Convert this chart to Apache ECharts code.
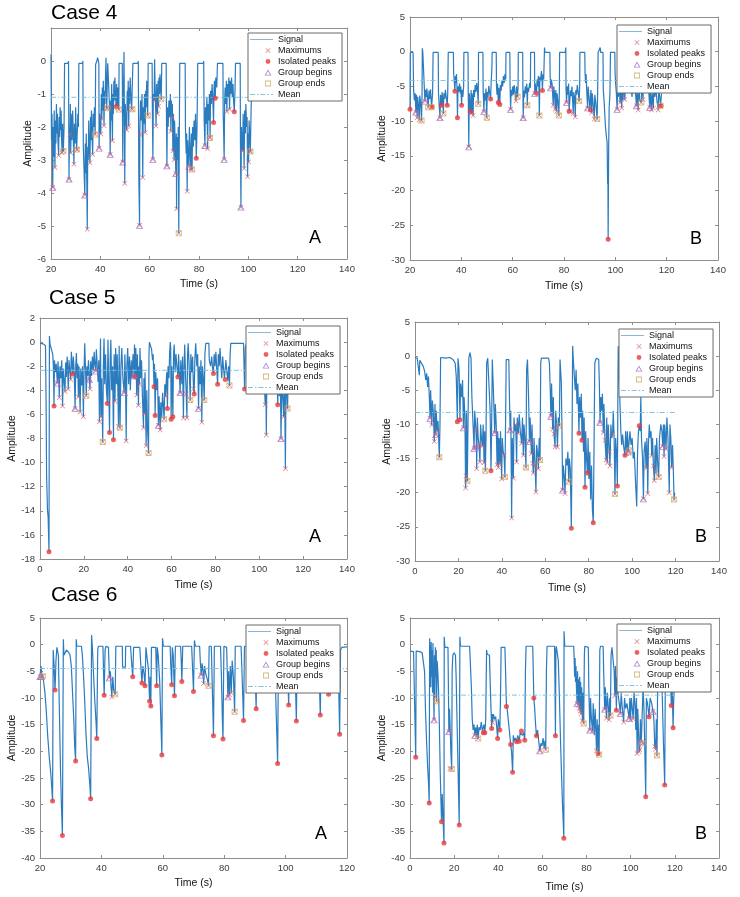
<!DOCTYPE html>
<html>
<head>
<meta charset="utf-8">
<script src="https://cdn.jsdelivr.net/npm/echarts@6/dist/echarts.min.js"></script>
<style>
  html, body { margin: 0; padding: 0; background: #fff; }
  #chart { width: 740px; height: 897px; }
</style>
</head>
<body>
<div id="chart"></div>
<script>
// --- Case 4 A ---
const c4aSignal = [[20,0.2],[20.2,-2.4],[20.4,-1.6],[20.7,-3.83],[20.9,-2.0],[21.1,-2.9],[21.3,-1.5],[21.6,-3.23],[21.8,-1.8],[22.0,-2.5],[22.2,-1.3],[22.4,-2.2],[22.6,-1.6],[22.8,-2.4],[23.1,-2.86],[23.3,-1.7],[23.5,-2.3],[23.7,-1.4],[23.9,-2.1],[24.1,-1.5],[24.3,-2.4],[24.5,-2.78],[24.7,-1.9],[25.0,-2.73],[25.3,-2.0],[25.5,-0.07],
  [27.0,-0.07],[27.1,0.0],[27.3,-3.58],[27.5,-2.0],[27.7,-2.23],[27.85,-1.3],[28.0,-2.79],[28.2,-1.6],[28.5,-2.4],[28.8,-1.5],[29.0,-2.2],[29.3,-3.13],[29.5,-1.9],[29.8,-2.5],[30.0,-1.4],[30.2,-2.2],[30.4,-2.68],[30.7,-2.68],[30.9,-1.6],[31.1,-2.0],[31.3,-0.07],
  [32.8,-0.07],[32.9,0.0],[33.1,-2.6],[33.4,-3.3],[33.7,-4.06],[33.9,-2.5],[34.1,-3.4],[34.3,-2.2],[34.5,-3.6],[34.7,-5.1],[34.9,-2.6],[35.1,-3.0],[35.3,-1.8],[35.5,-2.6],[35.8,-3.08],[36.0,-1.7],[36.2,-2.4],[36.4,-1.5],[36.6,-2.2],[36.9,-2.83],[37.1,-1.6],[37.4,-2.0],[37.6,-1.4],[37.9,-2.23],[38.1,-0.1],
  [38.6,0.0],[38.9,0.1],[39.2,0.0],[39.4,-0.08],[39.5,-2.64],[39.7,-1.6],[39.9,-2.0],[40.2,-2.21],[40.4,-1.0],[40.6,-1.75],[40.8,-0.8],[41.0,-1.5],[41.2,-0.6],[41.5,-1.96],[41.7,-0.9],[41.9,-1.3],[42.1,-0.5],[42.3,0.1],[42.6,-1.43],[42.9,-1.43],[43.0,-0.07],
  [43.7,-0.07],[43.8,-1.5],[44.0,-2.83],[44.2,-1.2],[44.4,-1.8],[44.6,-0.7],[44.9,-2.42],[45.1,-1.0],[45.3,-1.6],[45.5,-0.6],[45.7,-1.2],[45.9,-0.5],[46.1,-1.0],[46.4,-1.38],[46.6,-0.7],[46.9,-1.42],[47.1,-0.8],[47.3,-1.2],[47.5,-1.47],[47.6,-0.07],
  [48.9,-0.07],[49.0,-1.8],[49.1,-3.06],[49.3,-1.0],[49.5,-0.4],[49.6,0.27],[49.9,-3.71],[50.1,-1.3],[50.4,-1.8],[50.7,-2.09],[50.9,-0.9],[51.1,-1.5],[51.3,-0.6],[51.5,-1.97],[51.7,-0.8],[51.9,-1.3],[52.1,-0.5],[52.4,-1.1],[52.7,-1.45],[53.0,-1.46],[53.2,-0.07],
  [55.3,-0.07],[55.4,0.0],[55.6,-3.5],[55.9,-4.98],[56.0,-2.23],[56.1,-2.23],[56.3,-1.2],[56.6,-1.8],[56.9,-1.0],[57.2,-3.53],[57.4,-1.4],[57.7,-1.9],[57.9,-1.0],[58.2,-2.17],[58.4,-0.9],[58.6,-1.4],[58.8,-0.6],[59.0,-1.2],[59.2,-1.65],[59.4,-0.07],
  [61.0,-0.07],[61.1,-1.5],[61.3,-2.98],[61.5,-1.0],[61.8,-1.2],[62.0,0.05],[62.2,-0.8],[62.6,-1.97],[62.8,-0.7],[63.0,-1.2],[63.2,-1.6],[63.4,-0.6],[63.6,-1.38],[63.8,-0.5],[64.0,-1.0],[64.2,-0.4],[64.5,-0.9],[64.7,-1.16],[64.9,-0.07],
  [66.7,-0.07],[66.8,-1.6],[67.0,-3.18],[67.2,-1.4],[67.5,-2.0],[67.8,-1.2],[68.1,-1.7],[68.4,-1.0],[68.6,-2.13],[68.8,-1.2],[69.1,-1.70],[69.2,-1.3],[69.4,-2.73],[69.6,-1.6],[69.9,-2.99],[70.1,-1.8],[70.3,-2.4],[70.6,-3.41],[70.8,-2.2],[70.9,-4.48],[71.1,-2.3],[71.4,-3.0],[71.6,-2.0],[71.8,-5.22],[72.0,-2.5],[72.2,-0.07],
  [74.4,-0.07],[74.5,-2.0],[74.8,-2.8],[75.0,-2.2],[75.2,-3.95],[75.4,-2.4],[75.6,-3.0],[75.9,-3.19],[76.1,-2.0],[76.4,-2.8],[76.7,-3.29],[76.9,-2.2],[77.2,-3.29],[77.4,-2.0],[77.7,-2.6],[78.0,-1.8],[78.3,-2.4],[78.6,-1.6],[78.9,-2.95],[79.2,-2.0],[79.5,-0.07],
  [81.8,-0.07],[81.9,0.0],[82.1,-1.8],[82.4,-2.56],[82.6,-1.4],[82.9,-1.9],[83.2,-1.1],[83.5,-2.66],[83.7,-1.3],[84.0,-1.8],[84.2,-1.0],[84.5,-2.31],[84.7,-0.9],[85.0,-1.3],[85.3,-0.7],[85.6,-1.2],[85.9,-1.86],[86.1,-0.8],[86.3,-0.6],[86.6,-1.13],[86.8,-0.5],[87.2,-0.8],[87.5,-0.07],
  [89.7,-0.07],[89.8,-1.6],[90.0,-2.2],[90.2,-2.98],[90.4,-1.2],[90.6,-0.8],[90.9,-1.3],[91.1,-0.6],[91.3,-1.53],[91.5,-0.7],[91.8,-1.1],[92.1,-0.5],[92.4,-1.46],[92.6,-0.6],[92.9,-1.0],[93.2,-0.5],[93.5,-1.1],[93.8,-0.7],[94.0,-1.2],[94.3,-1.54],[94.6,-0.9],[94.8,-0.07],
  [96.7,-0.07],[96.8,-2.5],[97.0,-4.43],[97.2,-2.0],[97.5,-2.6],[97.7,-2.73],[97.9,-1.6],[98.1,-2.4],[98.3,-3.26],[98.5,-1.5],[98.8,-2.2],[99.0,-1.3],[99.3,-2.0],[99.5,-1.7],[99.7,-3.51],[99.9,-2.2],[100.1,-3.06],[100.3,-1.8],[100.6,-2.3],[100.8,-2.74],[101.0,-2.74],[101.2,-1.2]];
const c4aMaxima = [[21.6,-3.23],[23.1,-2.86],[24.5,-2.78],[27.7,-2.23],[28.0,-2.79],[29.3,-3.13],[30.7,-2.68],[34.7,-5.1],[35.8,-3.08],[36.9,-2.83],[40.2,-2.21],[40.6,-1.75],[41.5,-1.96],[42.6,-1.43],[44.9,-2.42],[46.9,-1.42],[49.9,-3.71],[50.7,-2.09],[51.5,-1.97],[52.7,-1.45],[56.1,-2.23],[57.2,-3.53],[58.2,-2.17],[61.8,-1.2],[62.6,-1.97],[63.2,-1.6],[63.6,-1.38],[68.6,-2.13],[69.1,-1.7],[69.4,-2.73],[69.9,-2.99],[70.9,-4.48],[75.2,-3.95],[76.7,-3.29],[83.5,-2.66],[84.5,-2.31],[91.3,-1.53],[92.4,-1.46],[97.7,-2.73],[98.3,-3.26],[99.7,-3.51],[100.1,-3.06],[101.0,-2.74]];
const c4aIsolated = [[46.4,-1.38],[78.9,-2.95],[85.9,-1.86],[86.6,-1.13],[94.3,-1.54]];
const c4aBegins = [[20.7,-3.83],[27.3,-3.58],[33.7,-4.06],[39.5,-2.64],[44.0,-2.83],[49.1,-3.06],[55.9,-4.98],[61.3,-2.98],[67.0,-3.18],[70.6,-3.41],[75.9,-3.19],[82.4,-2.56],[90.2,-2.98],[97.0,-4.43]];
const c4aEnds = [[25.0,-2.73],[30.4,-2.68],[37.9,-2.23],[42.9,-1.43],[47.5,-1.47],[53.0,-1.46],[59.2,-1.65],[64.7,-1.16],[71.8,-5.22],[77.2,-3.29],[84.4,-2.33],[100.8,-2.74]];
const c4aMean = -1.10;
const c4aXTicks = [20, 40, 60, 80, 100, 120, 140];
const c4aYTicks = [-6, -5, -4, -3, -2, -1, 0, 1];

// --- Case 4 B ---
const c4bSignal = [[20.0,-8.3],[20.1,-0.1],[21.2,-0.1],[21.4,-5.5],[21.7,-7.0],[22.0,-6.0],[22.3,-8.7],[22.5,-6.2],[22.8,-9.5],[23.0,-6.5],[23.3,-7.8],[23.6,-9.8],[23.8,-6.3],[24.1,-7.2],[24.5,-9.9],[24.7,-6.0],[24.8,0.5],[25.0,-0.1],[25.7,-0.1],[25.8,-7.1],[26.0,-5.5],[26.3,-6.6],[26.6,-5.3],[26.9,-7.0],[27.1,-8.0],[27.4,-5.6],[27.7,-6.8],[28.0,-5.4],[28.4,-8.0],[28.6,-7.95],[28.8,-6.0],[29.0,-0.1],
  [31.0,-0.1],[31.1,-6.0],[31.4,-8.0],[31.7,-9.5],[31.9,-6.2],[32.1,-7.0],[32.3,-7.7],[32.5,-5.8],[32.8,-7.3],[33.0,-8.9],[33.2,-6.0],[33.5,-6.8],[33.8,-5.5],[34.1,-6.5],[34.5,-7.7],[34.7,-6.0],[34.9,-0.1],
  [36.9,-0.1],[37.0,-3.0],[37.2,-4.0],[37.5,-5.7],[37.7,-3.5],[37.9,-4.5],[38.1,-3.2],[38.3,-5.0],[38.5,-9.5],[38.7,-5.0],[39.0,-5.8],[39.3,-4.6],[39.6,-6.0],[39.8,-5.0],[40.1,-7.7],[40.3,-5.5],[40.6,-6.5],[40.9,-5.0],[41.0,-0.1],
  [42.6,-0.1],[42.7,-6.0],[42.9,-13.7],[43.1,-6.0],[43.3,-7.5],[43.6,-8.6],[43.8,-5.5],[44.0,-8.9],[44.2,-6.0],[44.4,-7.2],[44.6,-9.2],[44.8,-5.5],[45.1,-6.5],[45.4,-4.8],[45.7,-5.8],[46.0,-4.5],[46.3,-5.6],[46.6,-7.5],[46.7,-0.1],
  [48.4,-0.1],[48.5,-5.5],[48.8,-8.6],[49.0,-6.0],[49.3,-7.0],[49.6,-5.3],[49.9,-9.5],[50.1,-5.8],[50.4,-6.6],[50.7,-4.9],[51.0,-5.8],[51.4,-6.8],[51.6,-4.5],[51.9,-2.6],[52.0,-0.1],
  [53.6,-0.1],[53.7,-5.0],[53.9,-6.2],[54.1,-4.6],[54.4,-7.3],[54.6,-5.2],[55.0,-7.6],[55.2,-4.8],[55.5,-5.6],[55.8,-4.2],[56.1,-5.0],[56.4,-3.5],[56.7,-4.5],[57.0,-3.2],[57.3,-4.0],[57.4,-0.1],
  [58.9,-0.1],[59.0,-5.0],[59.2,-8.3],[59.4,-5.5],[59.7,-6.4],[60.0,-5.0],[60.3,-6.2],[60.6,-4.8],[60.9,-5.9],[61.3,-7.1],[61.5,-5.0],[61.9,-6.5],[62.1,-5.0],[62.2,-0.1],
  [63.9,-0.1],[64.0,-6.0],[64.1,-9.5],[64.3,-5.6],[64.6,-6.6],[64.9,-5.0],[65.2,-6.0],[65.5,-4.6],[65.7,-7.7],[65.9,-5.2],[66.2,-5.8],[66.6,-4.5],[66.9,-5.2],[67.0,-0.1],
  [68.5,-0.1],[68.6,-6.0],[68.8,-4.6],[69.0,-5.4],[69.3,-6.0],[69.5,-4.0],[69.8,-5.0],[70.0,-3.5],[70.2,-4.4],[70.4,-9.2],[70.6,-3.6],[70.9,-4.2],[71.2,-2.8],[71.4,-3.6],[71.6,-5.6],[71.8,-3.3],[72.1,-4.0],[72.4,0.6],[72.6,-0.1],
  [74.5,-0.1],[74.6,-3.5],[74.8,-5.2],[75.1,-4.0],[75.4,-4.8],[75.8,-7.7],[76.0,-5.0],[76.3,-6.0],[76.6,-8.3],[76.8,-5.5],[77.1,-8.6],[77.3,-6.0],[77.6,-7.0],[78.0,-9.2],[78.2,-5.5],[78.3,-0.1],
  [80.5,-0.1],[80.7,0.6],[80.8,-5.5],[81.0,-7.3],[81.2,-5.0],[81.5,-6.2],[81.8,-4.6],[82.0,-8.57],[82.3,-8.6],[82.5,-5.6],[82.8,-6.4],[83.1,-5.0],[83.6,-8.9],[83.8,-5.8],[84.1,-6.6],[84.4,-9.4],[84.6,-5.5],[84.9,-6.2],[85.2,-4.8],[85.5,-5.8],[85.9,-7.1],[86.1,-5.0],[86.2,-0.1],
  [88.1,-0.1],[88.2,-3.0],[88.4,-4.5],[88.6,-3.2],[88.9,-6.0],[89.2,-8.1],[89.4,-5.0],[89.7,-6.3],[90.1,-8.3],[90.3,-8.4],[90.5,-5.5],[90.8,-8.8],[91.0,-6.0],[91.3,-7.2],[91.8,-9.7],[92.0,-6.2],[92.3,-7.0],[92.9,-9.7],[93.1,-6.0],[93.3,-0.1],
  [94.0,-0.1],[94.1,0.6],[94.3,-0.1],[95.2,-0.1],[95.3,-5.5],[95.6,-7.0],[95.9,-9.0],[96.1,-10.5],[96.4,-11.8],[96.6,-12.5],[96.8,-13.0],[97.0,-19.0],[97.1,-17.0],[97.2,-27.0],[97.4,-14.0],[97.6,-8.0],[97.9,-6.0],[98.1,-0.1],
  [99.8,-0.1],[99.9,-3.0],[100.1,-4.5],[100.4,-6.0],[100.7,-8.3],[100.9,-5.0],[101.2,-6.5],[101.5,-3.5],[101.8,-7.3],[102.0,-5.0],[102.5,-8.1],[102.7,-4.5],[103.0,-7.0],[103.3,-4.0],[103.7,-6.9],[104.0,-3.5],[104.3,-0.1],
  [106.0,-0.1],[106.1,-5.0],[106.5,-6.5],[106.9,-4.5],[107.3,-6.0],[107.7,-5.0],[108.2,-7.8],[108.5,-5.5],[108.9,-8.4],[109.2,-5.0],[109.5,-7.0],[110.1,-7.3],[110.3,-4.5],[110.8,-6.9],[111.0,-0.1],
  [112.8,-0.1],[112.9,-5.0],[113.4,-8.0],[113.6,-5.5],[114.1,-8.4],[114.3,-5.8],[114.8,-8.1],[115.0,-5.0],[115.4,-6.5],[115.8,-5.2],[116.2,-7.0],[116.7,-8.4],[116.9,-5.5],[117.3,-6.5],[117.6,-7.8],[117.8,-7.8],[118.0,-6.0]];
const c4bMaxima = [[22.8,-9.5],[23.6,-9.8],[44.0,-8.9],[44.6,-9.2],[61.3,-7.1],[75.8,-7.7],[76.6,-8.3],[77.1,-8.6],[82.3,-8.6],[83.6,-8.9],[84.4,-9.4],[90.8,-8.8],[91.8,-9.7],[101.8,-7.3],[102.5,-8.1],[103.7,-6.9],[108.9,-8.4],[110.8,-6.9],[114.1,-8.4],[114.8,-8.1],[116.7,-8.4]];
const c4bIsolated = [[20.0,-8.3],[28.6,-7.95],[32.3,-7.7],[34.5,-7.7],[37.5,-5.7],[38.5,-9.5],[40.1,-7.7],[43.6,-8.6],[51.4,-6.8],[54.4,-7.3],[55.0,-7.6],[69.3,-6.0],[71.6,-5.6],[82.0,-8.57],[90.3,-8.4],[97.2,-27.0],[117.8,-7.8]];
const c4bBegins = [[22.3,-8.7],[25.8,-7.1],[31.7,-9.5],[42.9,-13.7],[48.8,-8.6],[59.2,-8.3],[64.1,-9.5],[68.6,-6.0],[74.8,-5.2],[81.0,-7.3],[89.2,-8.1],[100.7,-8.3],[108.2,-7.8],[113.4,-8.0]];
const c4bEnds = [[24.5,-9.9],[27.1,-8.0],[28.4,-8.0],[33.0,-8.9],[46.6,-7.5],[49.9,-9.5],[61.9,-6.5],[65.7,-7.7],[70.4,-9.2],[78.0,-9.2],[85.9,-7.1],[92.9,-9.7],[110.1,-7.3],[117.6,-7.8]];
const c4bMean = -4.14;
const c4bXTicks = [20, 40, 60, 80, 100, 120, 140];
const c4bYTicks = [-30, -25, -20, -15, -10, -5, 0, 5];

// --- Case 5 A ---
const c5aSignal = [[0,-0.1],[1.5,-0.15],[2.2,-0.1],[2.5,-0.3],[2.8,-5.5],[3.0,-11],[3.4,-13.9],[3.7,-14.5],[4.1,-17.4],[4.3,0.5],[4.6,-0.2],[5.5,-0.3],[5.8,-1.0],[6.1,-2.0],[6.4,-5.3],[6.6,-1.5],[7.0,-2.5],[7.4,-1.8],[7.9,-3.4],[8.2,-1.6],[8.5,-2.8],[8.8,-4.6],[9.1,-2.0],[9.5,-3.0],[9.9,-1.5],[10.3,-5.3],[10.6,-2.2],[11.0,-3.2],[11.4,-4.1],[11.7,-1.7],[12.0,-2.9],[12.4,-1.2],[12.9,-3.9],[13.2,-1.5],[13.6,-2.3],[14.0,-3.1],[14.3,-0.8],[14.6,-1.8],[14.9,-2.65],[15.2,-1.2],[15.6,-2.5],[16.0,-5.5],[16.3,-2.0],[16.6,-0.9],[16.9,-3.0],[17.2,-1.8],[17.5,-4.55],[17.8,-2.0],[18.0,-3.5],[18.3,-5.8],[18.6,-2.2],[19.0,-3.6],[19.4,-2.0],[19.8,-6.2],[20.1,-2.3],[20.4,-0.1],
  [21.0,-0.1],[21.1,-4.45],[21.4,-2.0],[21.8,-2.8],[22.1,-1.5],[22.5,-3.1],[22.8,-3.9],[23.1,-1.6],[23.5,-2.8],[23.9,-1.2],[24.3,-2.4],[24.7,-0.8],[25.0,-1.8],[25.4,-2.4],[25.7,-0.6],[26.1,-2.0],[26.5,-3.3],[26.8,-1.5],[27.1,-6.6],[27.4,-2.0],[27.6,0.3],[27.8,-6.2],[28.1,-3.0],[28.6,-8.3],[28.9,-2.0],[29.2,0.3],[29.5,-3.5],[29.9,-1.0],[30.3,-4.0],[30.7,-5.1],[31.0,0.2],[31.3,-3.0],[31.7,-7.5],[32.0,-1.5],[32.3,0.2],[32.7,-4.0],[33.1,-2.0],[33.5,-8.1],[33.8,-1.0],[34.2,-4.9],[34.5,-0.5],[34.9,-3.5],[35.2,-1.0],[35.8,-7.0],[36.1,-0.3],[36.5,-7.1],[36.9,-2.0],[37.3,-0.5],[37.8,-3.0],[38.4,-4.2],[38.7,-1.0],[39.0,-3.0],[39.3,-8.2],[39.6,-2.0],[40.0,-0.5],[40.4,-3.5],[40.8,-1.2],[41.2,-4.0],[41.6,-1.5],[42.0,-3.0],[42.4,-1.0],[42.9,-2.8],[43.1,-0.2],[43.4,-2.9],[43.7,-0.5],[44.1,-4.4],[44.4,-1.0],[44.9,-5.25],[45.1,-2.0],[45.3,-3.5],[45.6,-0.5],[45.9,-3.0],[46.3,-1.5],[46.7,-4.5],[47.2,-7.1],[47.4,-3.0],[47.6,-5.95],[47.9,-2.5],[48.4,-8.6],[48.7,-4.0],[49.0,-7.0],[49.5,-9.2],[49.7,-1.0],[49.9,0.0],
  [50.5,-0.1],[50.9,-0.6],[51.3,-1.5],[51.6,-1.0],[52.0,-3.7],[52.2,-1.8],[52.5,-6.1],[52.8,-2.5],[53.2,-4.0],[53.6,-3.0],[54.0,-6.9],[54.3,-4.5],[54.8,-7.3],[55.1,-5.0],[55.5,-6.3],[55.9,-4.2],[56.3,-5.5],[56.6,-6.4],[56.9,-3.5],[57.2,-4.5],[57.5,-4.5],[57.8,-2.5],[58.1,-5.5],[58.4,-2.0],[58.8,-3.0],[59.1,-1.0],[59.4,0.0],[59.6,-0.5],[59.8,-6.4],[60.1,-2.0],[60.6,-6.2],[60.9,-1.0],[61.2,-0.2],[61.6,-2.5],[62.0,-1.0],[62.5,-2.2],[62.9,-2.9],[63.2,-1.0],[63.9,-4.2],[64.2,-1.5],[64.7,-3.5],[65.0,-1.2],[65.4,-6.3],[65.7,-2.0],[66.0,-0.2],[66.4,-3.0],[66.7,-4.3],[67.0,-6.3],[67.3,-1.0],[67.6,-0.1],[68.0,-2.0],[68.5,-4.8],[68.8,-1.0],[69.2,-2.5],[69.6,-1.2],[70.0,-3.9],[70.3,-4.3],[70.6,-1.5],[71.0,-0.1],[71.5,-2.0],[71.9,-1.0],[72.3,-5.5],[72.6,-2.0],[73.0,-3.5],[73.4,-1.5],[73.8,-6.65],[74.1,-2.0],[74.5,-3.0],[74.9,-4.8],[75.2,-1.0],[75.6,-0.1],
  [77.0,-0.1],[77.2,-1.5],[77.8,-2.0],[78.3,-1.2],[78.7,-2.2],[79.1,-2.6],[79.4,-1.0],[79.8,-2.0],[80.2,-0.8],[80.6,-2.3],[81.0,-3.5],[81.3,-1.0],[81.7,-2.0],[82.1,-0.5],[82.5,-1.8],[82.9,-3.0],[83.3,-1.2],[83.7,-2.2],[84.1,-3.0],[84.5,-3.1],[84.8,-1.5],[85.2,-2.5],[85.6,-3.2],[86.0,-2.0],[86.4,-3.6],[86.7,-1.0],[87.0,-0.1],[92.8,-0.1],[93.3,-3.9],[93.6,-0.5],[94.0,-0.2],[96.0,-0.2],[96.5,-1.5],[97.0,-0.5],[98.0,-2.0],[99.0,-1.0],[100.0,-2.5],[101.0,-1.5],[102.0,-2.0],[102.7,-5.2],[103.0,-3.0],[103.2,-7.7],[103.5,-2.0],[104.2,-0.3],
  [106.5,-0.3],[107.0,-2.0],[107.6,-3.0],[108.0,-2.0],[108.4,-5.2],[108.7,-3.0],[109.2,-4.5],[109.6,-2.5],[109.9,-8.0],[110.3,-3.0],[110.7,-4.5],[111.1,-6.2],[111.5,-2.5],[111.9,-10.5],[112.2,-3.0],[112.6,-4.0],[112.9,-5.5],[113.2,-2.5],[113.5,-1.0]];
const c5aMaxima = [[8.8,-4.6],[10.3,-5.3],[11.4,-4.1],[12.9,-3.9],[14.0,-3.1],[17.5,-4.55],[18.3,-5.8],[19.8,-6.2],[22.8,-3.9],[27.1,-6.6],[27.8,-6.2],[34.2,-4.9],[35.8,-7.0],[39.3,-8.2],[44.1,-4.4],[44.9,-5.25],[45.3,-3.5],[47.2,-7.1],[47.6,-5.95],[48.4,-8.6],[54.8,-7.3],[57.5,-4.5],[65.4,-6.3],[66.7,-4.3],[67.0,-6.3],[70.0,-3.9],[73.8,-6.65],[102.7,-5.2],[103.2,-7.7],[111.1,-6.2],[111.9,-10.5]];
const c5aIsolated = [[4.1,-17.4],[6.4,-5.3],[14.9,-2.65],[30.7,-5.1],[31.7,-7.5],[33.5,-8.1],[43.4,-2.9],[52.0,-3.7],[52.5,-6.1],[58.1,-5.5],[59.8,-6.4],[60.6,-6.2],[62.9,-2.9],[70.3,-4.3],[79.1,-2.6],[81.0,-3.5],[84.5,-3.1],[93.3,-3.9],[108.4,-5.2]];
const c5aBegins = [[7.9,-3.4],[16.0,-5.5],[22.5,-3.1],[25.4,-2.4],[38.4,-4.2],[42.9,-2.8],[54.0,-6.9],[63.9,-4.2],[72.3,-5.5],[109.9,-8.0]];
const c5aEnds = [[21.1,-4.45],[28.6,-8.3],[36.5,-7.1],[49.5,-9.2],[56.6,-6.4],[68.5,-4.8],[74.9,-4.8],[86.4,-3.6],[112.9,-5.5]];
const c5aMean = -2.34;
const c5aXTicks = [0, 20, 40, 60, 80, 100, 120, 140];
const c5aYTicks = [-18, -16, -14, -12, -10, -8, -6, -4, -2, 0, 2];

// --- Case 5 B ---
const c5bSignal = [[0,-0.2],[1.0,-0.3],[1.8,-0.5],[2.0,-2.8],[2.2,-0.6],[3.0,-0.8],[3.8,-1.5],[4.4,-2.2],[5.0,-3.5],[5.4,-2.5],[5.8,-4.5],[6.2,-3.0],[6.6,-6.0],[6.9,-9.1],[7.2,-5.0],[7.7,-10.1],[8.0,-6.5],[8.4,-8.0],[8.9,-12.5],[9.2,-7.0],[9.5,-11.5],[9.8,-8.0],[10.2,-11.0],[10.6,-9.5],[11.2,-14.8],[11.5,-10.0],[11.8,-0.2],[14.0,-0.3],[16.0,-0.2],[17.5,-0.5],[18.5,-1.0],[19.0,-3.0],[19.5,-9.6],[19.8,-0.3],[20.3,-2.0],[20.7,-9.3],[21.0,-4.0],[21.5,-6.0],[21.9,-3.5],[22.3,-10.5],[22.6,-6.0],[23.0,-9.0],[23.3,-19.3],[23.5,-17.5],[23.7,-8.0],[24.1,-18.3],[24.4,-10.0],[24.8,-0.3],[25.3,0.5],[25.8,-0.3],
  [26.2,-6.0],[26.6,-9.0],[27.2,-13.5],[27.5,-8.0],[28.1,-11.0],[28.3,-13.3],[28.4,-16.5],[28.7,-9.0],[29.1,-12.0],[29.5,-13.0],[29.9,-15.5],[30.2,-10.0],[30.6,-12.0],[31.0,-13.2],[31.4,-10.0],[31.8,-15.6],[32.1,-11.0],[32.4,-16.8],[32.7,-12.0],[33.0,-1.0],[33.5,-0.3],[34.3,-0.5],[34.6,-8.0],[35.0,-16.8],[35.3,-10.0],[35.6,-0.5],[36.0,-4.0],[36.4,-8.0],[36.7,-11.2],[37.0,-7.0],[37.4,-10.0],[37.8,-15.9],[38.1,-11.0],[38.4,-16.3],[38.7,-12.0],[39.1,-15.8],[39.4,-11.0],[39.9,-18.0],[40.2,-12.0],[40.6,-14.0],[41.0,-14.5],[41.4,-17.7],[41.7,-10.0],[42.0,-0.5],[43.2,-0.5],
  [43.5,-6.0],[43.8,-10.8],[44.1,-8.0],[44.5,-23.7],[44.8,-12.0],[45.3,-17.9],[45.6,-9.0],[46.0,-11.0],[46.4,-10.0],[46.8,-15.5],[47.1,-9.0],[47.6,-11.3],[48.0,-8.5],[48.5,-11.0],[49.1,-12.8],[49.5,-9.0],[49.9,-14.5],[50.2,-10.0],[50.6,-12.0],[51.1,-16.3],[51.4,-2.0],[51.8,-0.5],[52.3,-6.0],[52.7,-12.5],[53.0,-9.0],[53.6,-14.3],[53.9,-10.0],[54.2,-15.7],[54.5,-17.1],[54.8,-12.0],[55.3,-16.1],[55.7,-19.9],[56.0,-13.0],[56.4,-14.0],[56.8,-16.5],[57.2,-12.0],[57.6,-15.2],[57.9,-1.0],[58.2,-0.3],[61.5,-0.3],
  [61.9,-1.0],[62.2,-4.0],[62.6,-8.8],[62.9,-4.0],[63.4,-10.7],[63.7,-6.0],[64.0,-11.4],[64.5,-13.3],[64.8,-8.0],[65.2,-10.0],[65.6,-13.3],[66.0,-9.0],[66.5,-10.2],[66.8,-0.5],[67.4,-4.0],[68.0,-19.6],[68.3,-16.0],[68.7,-17.5],[69.1,-20.1],[69.5,-15.0],[70.0,-16.0],[70.4,-14.0],[70.8,-18.4],[71.1,-15.0],[71.5,-16.5],[72.0,-25.2],[72.3,-14.0],[72.6,1.5],[72.9,-0.5],
  [73.4,-3.0],[73.8,-5.0],[74.2,-2.0],[74.6,-7.0],[75.0,-4.0],[75.5,-11.3],[75.8,-6.0],[76.2,-9.0],[76.6,-5.5],[76.9,-12.3],[77.2,-8.0],[77.6,-14.0],[77.9,-9.0],[78.3,-19.2],[78.6,-11.0],[79.0,-15.0],[79.4,-17.1],[79.7,-12.0],[80.1,-18.0],[80.5,-14.0],[80.9,-21.0],[81.3,-16.0],[81.7,-22.5],[82.1,-24.4],[82.4,-15.0],[82.8,-1.0],[83.5,-0.3],[84.6,-0.5],
  [84.9,-4.0],[85.2,-9.7],[85.6,-6.0],[86.0,-8.0],[86.3,-5.5],[86.7,-11.2],[87.0,-7.0],[87.5,-12.3],[88.0,-15.2],[88.3,-9.0],[88.6,-15.6],[89.0,-10.0],[89.5,-14.0],[89.8,-16.1],[90.2,-10.0],[90.6,-12.0],[91.0,-11.4],[91.3,-8.0],[91.7,-12.0],[92.1,-20.2],[92.4,-12.0],[92.8,-14.0],[93.2,-19.0],[93.5,-2.0],[93.6,1.5],[93.8,-0.5],
  [94.3,-6.0],[94.8,-11.0],[95.2,-13.0],[95.6,-11.5],[96.2,-13.5],[96.7,-14.5],[97.0,-11.0],[97.5,-14.3],[97.8,-11.0],[98.2,-14.0],[98.7,-13.8],[99.0,-11.0],[99.5,-13.0],[100.0,-12.0],[100.5,-15.0],[101.0,-14.0],[101.5,-18.0],[102.1,-22.0],[102.5,-14.0],[102.9,-11.0],[103.3,-10.2],[103.7,-11.0],[104.0,-6.0],[104.3,-12.0],[104.8,-15.0],[105.2,-20.9],[105.5,-14.0],[106.0,-12.5],[106.4,-16.4],[106.8,-12.0],[107.2,-20.1],[107.5,-13.0],[107.9,-10.0],[108.3,-12.0],[108.7,-11.0],[109.0,-14.6],[109.4,-12.0],[109.8,-16.1],[110.2,-18.2],[110.6,-13.0],[111.0,-17.1],[111.3,-12.0],[111.8,-16.0],[112.2,-17.7],[112.6,-12.0],[113.2,-10.0],[113.7,-11.0],[114.1,-13.2],[114.4,-10.0],[114.7,-14.7],[115.0,-10.0],[115.6,-13.6],[116.0,-9.0],[116.5,-12.0],[117.1,-20.0],[117.4,-10.0],[117.8,-12.0],[118.2,-16.3],[118.6,-13.0],[119.0,-17.0],[119.3,-21.0],[119.6,-20.0]];
const c5bMaxima = [[7.7,-10.1],[8.9,-12.5],[10.2,-11.0],[23.3,-19.3],[23.5,-17.5],[28.1,-11.0],[28.4,-16.5],[29.5,-13.0],[29.9,-15.5],[31.0,-13.2],[31.8,-15.6],[37.8,-15.9],[38.4,-16.3],[39.1,-15.8],[39.9,-18.0],[41.0,-14.5],[44.5,-23.7],[45.3,-17.9],[46.4,-10.0],[46.8,-15.5],[47.6,-11.3],[49.1,-12.8],[49.9,-14.5],[53.6,-14.3],[54.2,-15.7],[54.5,-17.1],[55.3,-16.1],[55.7,-19.9],[56.8,-16.5],[63.4,-10.7],[64.0,-11.4],[64.5,-13.3],[65.6,-13.3],[69.1,-20.1],[86.7,-11.2],[87.5,-12.3],[88.0,-15.2],[88.6,-15.6],[89.5,-14.0],[89.8,-16.1],[91.0,-11.4],[97.5,-14.3],[106.4,-16.4],[107.2,-20.1],[109.0,-14.6],[109.8,-16.1],[110.2,-18.2],[111.0,-17.1],[114.7,-14.7],[115.6,-13.6],[117.1,-20.0],[118.2,-16.3]];
const c5bIsolated = [[19.5,-9.6],[20.7,-9.3],[35.0,-16.8],[72.0,-25.2],[75.5,-11.3],[76.9,-12.3],[78.3,-19.2],[79.4,-17.1],[82.1,-24.4],[93.2,-19.0],[96.7,-14.5],[103.3,-10.2]];
const c5bBegins = [[6.9,-9.1],[9.5,-11.5],[22.3,-10.5],[27.2,-13.5],[28.3,-13.3],[36.7,-11.2],[43.8,-10.8],[52.7,-12.5],[62.6,-8.8],[68.0,-19.6],[85.2,-9.7],[98.2,-14.0],[105.2,-20.9],[114.1,-13.2]];
const c5bEnds = [[11.2,-14.8],[24.1,-18.3],[32.4,-16.8],[41.4,-17.7],[51.1,-16.3],[57.6,-15.2],[66.5,-10.2],[70.8,-18.4],[92.1,-20.2],[98.7,-13.8],[112.2,-17.7],[119.3,-21.0]];
const c5bMean = -8.25;
const c5bXTicks = [0, 20, 40, 60, 80, 100, 120, 140];
const c5bYTicks = [-30, -25, -20, -15, -10, -5, 0, 5];

// --- Case 6 A ---
const c6aSignal = [[20.0,-6.0],[20.3,-4.0],[20.6,-5.5],[20.9,-5.9],[21.2,-7.0],[21.6,-9.0],[22.0,-12.0],[22.5,-17.0],[23.0,-21.0],[23.5,-24.0],[23.8,-26.5],[24.1,-29.3],[24.3,-1.0],[24.6,-4.0],[24.9,-8.5],[25.2,-3.0],[25.5,-0.5],[25.8,-0.3],[26.0,-2.0],[26.3,-12.0],[26.7,-24.0],[27.0,-30.5],[27.3,-35.8],[27.6,1.0],[27.8,-2.0],[28.2,-1.5],[28.6,-1.0],[29.0,-1.2],[29.4,-1.5],[29.8,-2.0],[30.2,-4.0],[30.6,-9.0],[31.0,-14.0],[31.3,-19.0],[31.6,-21.8],[31.8,1.0],[32.0,-0.3],[33.5,-0.3],[33.8,-2.0],[34.2,-6.0],[34.6,-11.0],[35.0,-17.0],[35.4,-21.0],[35.8,-23.0],[36.2,-26.0],[36.5,-28.9],[36.8,1.8],[37.1,-1.0],[37.4,-5.0],[37.8,-10.0],[38.2,-14.0],[38.5,-17.6],[38.8,-1.0],[39.0,-0.3],[40.5,-0.3],[40.7,-5.0],[40.9,-9.5],[41.2,-1.0],[41.5,-0.3],[42.3,-0.5],[42.6,-6.2],[42.9,-5.0],[43.1,-7.5],[43.4,-9.8],[43.7,-6.0],[44.0,-8.5],[44.5,-9.3],[44.7,-0.3],[46.8,-0.3],[46.9,-4.2],[47.8,-4.2],[47.9,-0.3],[49.5,-0.3],[49.8,-3.0],[50.2,-6.0],[50.5,-0.5],[52.5,-0.5],[52.8,-3.5],[53.2,-7.2],[53.5,-4.0],[53.9,-5.5],[54.2,-7.7],[54.5,-0.5],[55.0,-0.5],[55.3,-4.5],[55.7,-10.6],[55.9,-6.0],[56.1,-11.5],[56.3,-0.5],[57.7,-0.5],[58.0,-7.7],[58.2,-0.5],[58.5,-2.0],[59.0,-7.0],[59.4,-15.0],[59.7,-20.7],[59.9,1.2],[60.2,-0.3],
  [62.4,-0.3],[62.6,-4.0],[62.9,-7.5],[63.1,-0.5],[63.4,-2.0],[63.8,-9.6],[64.1,-0.3],[65.8,-0.3],[66.0,-3.0],[66.2,-6.9],[66.5,-0.3],[69.4,-0.3],[69.7,-4.5],[70.0,-8.8],[70.3,0.8],[70.6,-0.3],[72.0,-0.3],[72.2,-3.0],[72.5,-5.7],[72.8,-3.5],[73.1,-5.0],[73.3,-7.3],[73.6,-4.0],[74.0,-5.5],[74.5,-6.5],[74.9,-7.7],[75.1,-0.3],[75.8,-0.3],[76.0,-5.0],[76.3,-12.0],[76.5,-17.1],[76.8,-0.3],[78.8,-0.3],[79.1,-6.0],[79.4,-14.0],[79.6,-17.7],[79.9,-0.3],[80.8,-0.5],[81.2,-9.8],[81.4,-5.0],[81.7,-9.4],[82.0,-4.0],[82.3,-9.0],[82.6,-3.0],[83.0,-6.0],[83.4,-12.6],[83.6,-0.3],[85.5,-0.3],[85.9,-7.0],[86.3,-14.2],[86.6,-0.3],[89.8,-0.3],[90.1,-6.0],[90.4,-12.0],[90.7,-0.3],[96.4,-0.3],[96.7,-8.0],[97.1,-16.0],[97.4,-22.3],[97.7,-0.3],[100.5,-0.3],[100.7,-6.0],[101.0,-11.3],[101.3,-0.3],[103.0,-0.3],[103.2,-7.0],[103.5,-14.3],[103.8,-0.3],[110.8,-0.3],[111.0,-7.0],[111.3,-13.2],[111.6,-0.3],[113.7,-0.3],[114.0,-9.3],[114.3,-0.3],[117.0,-0.3],[117.3,-8.0],[117.6,-16.8],[117.9,-1.0],[118.3,-0.5],[120.0,-0.4]];
const c6aMaxima = [[43.4,-9.8],[73.3,-7.3],[81.7,-9.4],[82.3,-9.0]];
const c6aIsolated = [[24.1,-29.3],[24.9,-8.5],[27.3,-35.8],[31.6,-21.8],[36.5,-28.9],[38.5,-17.6],[40.9,-9.5],[50.2,-6.0],[53.2,-7.2],[54.2,-7.7],[55.7,-10.6],[56.1,-11.5],[58.0,-7.7],[59.7,-20.7],[62.9,-7.5],[63.8,-9.6],[66.2,-6.9],[70.0,-8.8],[76.5,-17.1],[79.6,-17.7],[86.3,-14.2],[90.4,-12.0],[97.4,-22.3],[101.0,-11.3],[103.5,-14.3],[111.3,-13.2],[114.0,-9.3],[117.6,-16.8]];
const c6aBegins = [[20.0,-6.0],[20.4,-6.0],[42.6,-6.2],[72.5,-5.7],[81.2,-9.8]];
const c6aEnds = [[20.9,-5.9],[44.5,-9.3],[74.9,-7.7],[83.4,-12.6]];
const c6aMean = -4.48;
const c6aXTicks = [20, 40, 60, 80, 100, 120];
const c6aYTicks = [-40, -35, -30, -25, -20, -15, -10, -5, 0, 5];

// --- Case 6 B ---
const c6bSignal = [[0,-1.2],[0.8,-1.5],[1.6,-1.3],[2.4,-1.6],[2.6,-21.1],[2.8,-1.2],[3.5,-1.0],[4.5,-1.3],[5.5,-1.5],[6.2,-1.5],[6.6,-5.0],[7.0,-12.0],[7.5,-18.0],[8.0,-23.0],[8.4,-26.0],[8.7,-29.7],[8.9,1.2],[9.2,-3.0],[9.4,-8.0],[9.6,0.5],[9.8,-6.0],[10.0,-1.0],[10.2,-9.0],[10.4,0.3],[10.6,-7.0],[10.9,-14.1],[11.1,-2.0],[11.3,-9.8],[11.5,-0.5],[11.7,-6.0],[11.9,-1.0],[12.1,-10.6],[12.3,-3.0],[12.6,-5.0],[12.9,-8.0],[13.3,-15.0],[13.7,-24.0],[14.0,-29.0],[14.3,-33.2],[14.6,-28.0],[15.0,-33.0],[15.4,-37.2],[15.5,1.5],[15.8,-0.5],[17.2,-0.5],[17.4,-8.0],[17.6,-16.3],[17.9,-12.0],[18.3,-17.0],[18.6,-21.0],[18.9,-23.3],[19.1,-5.0],[19.4,-2.0],[20.0,-1.5],[20.6,-2.0],[20.9,-6.0],[21.3,-14.0],[21.7,-22.0],[22.0,-28.0],[22.3,-33.8],[22.6,1.5],[22.9,-0.3],
  [27.0,-0.3],[27.3,-3.0],[27.8,-8.0],[28.2,-14.0],[28.6,-16.0],[29.0,-15.0],[29.4,-17.0],[29.8,-15.5],[30.2,-17.2],[30.5,-15.0],[30.9,-17.6],[31.3,-15.5],[31.8,-16.0],[32.3,-14.5],[32.8,-16.2],[33.2,-16.5],[33.5,-15.0],[33.9,-16.5],[34.3,-14.0],[34.7,-1.0],[35.0,-1.8],[36.0,-2.0],[36.4,-8.0],[36.7,-12.0],[37.0,-15.7],[37.2,-13.0],[37.4,-14.6],[37.8,-13.0],[38.3,-14.0],[38.8,-13.5],[39.2,-15.0],[39.7,-17.6],[40.0,-14.0],[40.4,-15.0],[40.7,-16.0],[41.0,-10.0],[41.3,-0.5],[43.0,-0.5],[43.3,-5.0],[43.7,-11.6],[44.0,-12.0],[44.5,-14.0],[45.0,-16.0],[45.6,-18.7],[46.0,-20.0],[46.5,-23.9],[46.8,-17.0],[47.2,-18.0],[47.7,-17.5],[48.3,-18.2],[48.8,-17.0],[49.5,-18.1],[49.9,-16.5],[50.5,-16.2],[51.0,-17.0],[51.5,-16.5],[52.0,-17.9],[52.3,-5.0],[52.6,-0.3],
  [55.6,-0.3],[55.8,-4.0],[56.1,-10.0],[56.5,-12.0],[56.9,-15.0],[57.3,-17.1],[57.8,-16.0],[58.3,-18.0],[58.8,-19.9],[59.3,-18.5],[59.8,-19.0],[60.3,-17.5],[60.8,-19.5],[61.2,-18.0],[61.5,-19.7],[61.8,-5.0],[62.1,-0.3],[65.5,-0.3],[65.7,-8.0],[65.9,-17.1],[66.1,-1.0],[66.3,-0.3],[66.8,-0.4],[67.2,-3.0],[67.7,-10.0],[68.2,-18.0],[68.7,-25.0],[69.1,-30.0],[69.4,-33.0],[69.7,-36.3],[69.8,2.5],[70.1,-0.3],[74.2,-0.3],
  [74.4,-3.0],[74.6,-6.0],[74.8,-2.5],[75.0,-7.0],[75.2,-4.0],[75.4,-8.0],[75.7,-11.0],[75.9,-5.0],[76.2,-11.3],[76.4,-6.5],[76.7,-12.0],[76.9,-6.0],[77.1,-12.5],[77.3,-7.0],[77.5,-13.0],[77.8,-8.0],[78.1,-14.3],[78.4,-9.0],[78.7,-14.8],[79.0,-2.0],[79.2,-0.3],[80.8,-0.5],[81.0,-8.0],[81.5,-16.0],[81.8,-10.0],[82.2,-14.0],[82.7,-16.2],[83.0,-11.0],[83.5,-17.0],[83.9,-12.0],[84.5,-19.9],[84.8,-14.0],[85.2,-20.4],[85.5,-15.0],[85.7,-20.6],[86.0,-1.0],[86.3,-0.3],[87.5,-0.3],
  [87.8,-6.0],[88.2,-12.1],[88.5,-8.0],[89.0,-13.8],[89.4,-9.0],[90.2,-14.1],[90.5,-10.0],[90.8,-13.3],[91.1,-2.0],[91.5,-0.5],[92.3,-0.5],[92.5,-5.0],[92.8,-9.6],[93.1,-4.0],[93.5,-12.3],[93.8,-6.0],[94.2,-9.0],[94.8,-11.0],[95.3,-12.9],[95.7,-9.0],[96.2,-12.0],[96.8,-14.5],[97.2,-10.0],[97.7,-12.0],[98.3,-11.0],[98.8,-12.5],[99.3,-13.8],[99.6,-10.0],[99.9,-14.1],[100.3,-10.0],[100.7,-12.0],[101.1,-13.9],[101.5,-9.0],[101.9,-11.0],[102.3,-16.0],[102.6,-10.0],[102.9,-20.4],[103.2,-12.0],[103.8,-20.1],[104.1,-19.7],[104.4,-14.0],[104.8,-18.2],[105.3,-18.5],[105.6,-8.0],[106.0,-12.0],[106.4,-20.0],[106.8,-28.5],[107.1,-10.0],[107.6,-11.0],[108.3,-13.5],[108.8,-10.0],[109.5,-11.0],[110.1,-12.5],[110.5,-14.0],[110.9,-19.1],[111.3,-19.6],[111.6,-14.0],[111.9,-20.8],[112.2,-8.0],[112.6,-3.0],[113.5,-3.0],[114.2,-8.0],[114.8,-18.0],[115.4,-26.3],[115.7,-5.0],[116.5,-3.0],[117.5,-4.0],[118.0,-6.0],[118.4,-11.4],[118.7,-6.0],[119.2,-15.6],[119.5,-10.0],[119.8,-8.0]];
const c6bMaxima = [[11.3,-9.8],[18.1,-23.2],[37.4,-14.6],[76.2,-11.3],[76.7,-12.0],[77.1,-12.5],[77.5,-13.0],[78.1,-14.3],[82.7,-16.2],[84.5,-19.9],[89.0,-13.8],[90.2,-14.1],[92.8,-9.6],[96.8,-14.5],[99.9,-14.1],[101.1,-13.9],[102.9,-20.4],[103.8,-20.1],[104.1,-19.7],[110.9,-19.1],[111.3,-19.6]];
const c6bIsolated = [[2.6,-21.1],[8.7,-29.7],[14.3,-33.2],[15.4,-37.2],[22.3,-33.8],[33.2,-16.5],[33.9,-16.5],[37.0,-15.7],[39.7,-17.6],[40.7,-16.0],[43.7,-11.6],[45.6,-18.7],[46.5,-23.9],[48.3,-18.2],[49.5,-18.1],[50.5,-16.2],[52.0,-17.9],[56.1,-10.0],[57.3,-17.1],[65.9,-17.1],[69.7,-36.3],[85.2,-20.4],[93.5,-12.3],[106.8,-28.5],[108.3,-13.5],[115.4,-26.3],[118.4,-11.4],[119.2,-15.6]];
const c6bBegins = [[10.9,-14.1],[17.6,-16.3],[29.4,-17.0],[58.8,-19.9],[75.7,-11.0],[81.5,-16.0],[88.2,-12.1],[95.3,-12.9],[99.3,-13.8],[104.8,-18.2],[110.1,-12.5]];
const c6bEnds = [[12.1,-10.6],[18.9,-23.3],[30.9,-17.6],[61.5,-19.7],[78.7,-14.8],[85.7,-20.6],[90.8,-13.3],[105.3,-18.5],[111.9,-20.8]];
const c6bMean = -9.46;
const c6bXTicks = [0, 20, 40, 60, 80, 100, 120, 140];
const c6bYTicks = [-40, -35, -30, -25, -20, -15, -10, -5, 0, 5];

const legendNames = ['Signal', 'Maximums', 'Isolated peaks', 'Group begins', 'Group ends', 'Mean'];

const panels = [
  { title: 'Case 4', tag: 'A', signal: c4aSignal, maxima: c4aMaxima, isolated: c4aIsolated, begins: c4aBegins, ends: c4aEnds, mean: c4aMean, xTicks: c4aXTicks, yTicks: c4aYTicks },
  { title: null, tag: 'B', signal: c4bSignal, maxima: c4bMaxima, isolated: c4bIsolated, begins: c4bBegins, ends: c4bEnds, mean: c4bMean, xTicks: c4bXTicks, yTicks: c4bYTicks },
  { title: 'Case 5', tag: 'A', signal: c5aSignal, maxima: c5aMaxima, isolated: c5aIsolated, begins: c5aBegins, ends: c5aEnds, mean: c5aMean, xTicks: c5aXTicks, yTicks: c5aYTicks },
  { title: null, tag: 'B', signal: c5bSignal, maxima: c5bMaxima, isolated: c5bIsolated, begins: c5bBegins, ends: c5bEnds, mean: c5bMean, xTicks: c5bXTicks, yTicks: c5bYTicks },
  { title: 'Case 6', tag: 'A', signal: c6aSignal, maxima: c6aMaxima, isolated: c6aIsolated, begins: c6aBegins, ends: c6aEnds, mean: c6aMean, xTicks: c6aXTicks, yTicks: c6aYTicks },
  { title: null, tag: 'B', signal: c6bSignal, maxima: c6bMaxima, isolated: c6bIsolated, begins: c6bBegins, ends: c6bEnds, mean: c6bMean, xTicks: c6bXTicks, yTicks: c6bYTicks }
];

// layout of each subplot (pixels)
const frames = [
  { grid: { left: 51, top: 28, width: 296, height: 231 }, legend: { left: 248, top: 33 }, titlePos: { left: 51, top: 3 }, tagPos: { left: 309, top: 229 }, yGap: 13, xGap: 20, hideTop: true },
  { grid: { left: 410, top: 17, width: 308, height: 243 }, legend: { left: 617, top: 25 }, tagPos: { left: 690, top: 230 }, yGap: 19, xGap: 21 },
  { grid: { left: 40, top: 318, width: 307, height: 241 }, legend: { left: 246, top: 326 }, titlePos: { left: 49, top: 288 }, tagPos: { left: 309, top: 528 }, yGap: 16, xGap: 21 },
  { grid: { left: 415, top: 322, width: 304, height: 239 }, legend: { left: 619, top: 329 }, tagPos: { left: 695, top: 528 }, yGap: 19, xGap: 22 },
  { grid: { left: 40, top: 618, width: 307, height: 240 }, legend: { left: 246, top: 625 }, titlePos: { left: 51, top: 585 }, tagPos: { left: 315, top: 825 }, yGap: 19, xGap: 20 },
  { grid: { left: 410, top: 618, width: 309, height: 240 }, legend: { left: 617, top: 624 }, tagPos: { left: 695, top: 825 }, yGap: 19, xGap: 24 }
];

const FONT = '"Liberation Sans", Arial, sans-serif';
const AXIS = '#8e8e8e';
const LABEL = '#3c3c3c';
const C_SIGNAL = '#2b7bbf';
const C_SIGNAL_KEY = '#6fa3cf';
const C_MEAN = '#7ec4dc';
const C_MAX = '#d4606e';
const C_ISO = '#e8393c';
const C_BEGIN = '#9b6cc4';
const C_END = '#c4ac5c';

// marker shapes (filled outlines so the legend copies them)
const SYM_X = 'path://M0,1L1,0L5,4L9,0L10,1L6,5L10,9L9,10L5,6L1,10L0,9L4,5Z';
const SYM_TRI = 'path://M5,0L10,9L0,9ZM5,2.3L1.8,8L8.2,8Z';
const SYM_SQ = 'path://M0,0H10V10H0ZM1.4,1.4V8.6H8.6V1.4Z';

// legend keys: 23x8 box, markers drawn near the right end of the sample line
const legendKeys = {
  'Signal': { icon: 'path://M0,0M23,8M0,3.6H23V4.4H0Z', color: C_SIGNAL_KEY },
  'Maximums': { icon: 'path://M0,0M23,8M15.5,2L16,1.5L18,3.5L20,1.5L20.5,2L18.5,4L20.5,6L20,6.5L18,4.5L16,6.5L15.5,6L17.5,4Z', color: C_MAX },
  'Isolated peaks': { icon: 'path://M0,0M23,8M18,1.6A2.4,2.4 0 1,1 18,6.4A2.4,2.4 0 1,1 18,1.6Z', color: C_ISO },
  'Group begins': { icon: 'path://M0,0M23,8M18,1L21.5,7L14.5,7ZM18,2.7L15.9,6.3L20.1,6.3Z', color: C_BEGIN },
  'Group ends': { icon: 'path://M0,0M23,8M15,1H21V7H15ZM15.9,1.9V6.1H20.1V1.9Z', color: C_END },
  'Mean': { icon: 'path://M0,0M23,8M0,3.6H5V4.4H0ZM7,3.6H8.5V4.4H7ZM10.5,3.6H15.5V4.4H10.5ZM17.5,3.6H19V4.4H17.5ZM21,3.6H23V4.4H21Z', color: C_MEAN }
};

function valueAxis(ticks, gridIndex, extra) {
  return Object.assign({
    type: 'value',
    gridIndex: gridIndex,
    min: ticks[0],
    max: ticks[ticks.length - 1],
    interval: ticks[1] - ticks[0],
    axisLine: { show: true, onZero: false, lineStyle: { color: AXIS, width: 1 } },
    axisTick: { show: true, inside: true, length: 3, lineStyle: { color: AXIS } },
    axisLabel: { show: true, color: LABEL, fontSize: 9.5, margin: 5, fontFamily: FONT },
    splitLine: { show: false }
  }, extra);
}

const option = {
  animation: false,
  backgroundColor: '#fff',
  textStyle: { fontFamily: FONT },
  title: [],
  grid: frames.map(f => Object.assign({ containLabel: false }, f.grid)),
  legend: [],
  xAxis: [],
  yAxis: [],
  series: []
};

panels.forEach((p, i) => {
  const f = frames[i];

  if (p.title) {
    option.title.push({
      text: p.title, left: f.titlePos.left, top: f.titlePos.top, padding: 0,
      textStyle: { fontSize: 21, fontWeight: 'normal', color: '#000', fontFamily: FONT }
    });
  }
  option.title.push({
    text: p.tag, left: f.tagPos.left, top: f.tagPos.top, padding: 0,
    textStyle: { fontSize: 18, fontWeight: 'normal', color: '#000', fontFamily: FONT }
  });

  // bottom + top x axes, left + right y axes (boxed axes)
  option.xAxis.push(valueAxis(p.xTicks, i, {
    position: 'bottom', name: 'Time (s)', nameLocation: 'middle', nameGap: f.xGap,
    nameTextStyle: { fontSize: 10.5, color: '#111', fontFamily: FONT }
  }));
  option.xAxis.push(valueAxis(p.xTicks, i, { position: 'top', axisLabel: { show: false } }));
  option.yAxis.push(valueAxis(p.yTicks, i, {
    position: 'left', name: 'Amplitude', nameLocation: 'middle', nameGap: f.yGap,
    nameTextStyle: { fontSize: 10.5, color: '#111', fontFamily: FONT },
    axisLabel: { show: true, color: LABEL, fontSize: 9.5, margin: 5, fontFamily: FONT, showMaxLabel: !f.hideTop }
  }));
  option.yAxis.push(valueAxis(p.yTicks, i, { position: 'right', axisLabel: { show: false } }));

  const xi = i * 2, yi = i * 2;
  const tStart = p.signal[0][0];
  const tEnd = p.signal[p.signal.length - 1][0];

  option.series.push(
    { name: 'Signal', type: 'line', xAxisIndex: xi, yAxisIndex: yi, data: p.signal, showSymbol: false, symbol: 'none',
      lineStyle: { color: C_SIGNAL, width: 1.2 }, itemStyle: { color: C_SIGNAL }, silent: true, z: 2 },
    { name: 'Maximums', type: 'scatter', xAxisIndex: xi, yAxisIndex: yi, data: p.maxima.concat(p.begins, p.ends),
      symbol: SYM_X, symbolSize: 5, itemStyle: { color: C_MAX }, silent: true, z: 3 },
    { name: 'Isolated peaks', type: 'scatter', xAxisIndex: xi, yAxisIndex: yi, data: p.isolated,
      symbol: 'circle', symbolSize: 5, itemStyle: { color: C_ISO }, silent: true, z: 3 },
    { name: 'Group begins', type: 'scatter', xAxisIndex: xi, yAxisIndex: yi, data: p.begins,
      symbol: SYM_TRI, symbolSize: [7.5, 6.8], itemStyle: { color: C_BEGIN }, silent: true, z: 3 },
    { name: 'Group ends', type: 'scatter', xAxisIndex: xi, yAxisIndex: yi, data: p.ends,
      symbol: SYM_SQ, symbolSize: 6, itemStyle: { color: C_END }, silent: true, z: 3 },
    { name: 'Mean', type: 'line', xAxisIndex: xi, yAxisIndex: yi, data: [[tStart, p.mean], [tEnd, p.mean]],
      showSymbol: false, symbol: 'none', lineStyle: { color: C_MEAN, width: 1, type: [5, 2, 1.2, 2] },
      itemStyle: { color: C_MEAN }, silent: true, z: 2 }
  );

  option.legend.push({
    orient: 'vertical', left: f.legend.left, top: f.legend.top,
    padding: [1, 6, 1, 2], itemGap: 0, itemWidth: 23, itemHeight: 8,
    backgroundColor: '#fff', borderColor: '#6a6a6a', borderWidth: 1, borderRadius: 0,
    textStyle: { fontSize: 9, lineHeight: 11, color: '#111', fontFamily: FONT },
    itemStyle: { borderWidth: 0 },
    selectedMode: false,
    data: legendNames.map(n => ({
      name: n, icon: legendKeys[n].icon,
      itemStyle: { color: legendKeys[n].color, borderWidth: 0 }
    }))
  });
});

const chart = echarts.init(document.getElementById('chart'));
chart.setOption(option);
</script>
</body>
</html>
